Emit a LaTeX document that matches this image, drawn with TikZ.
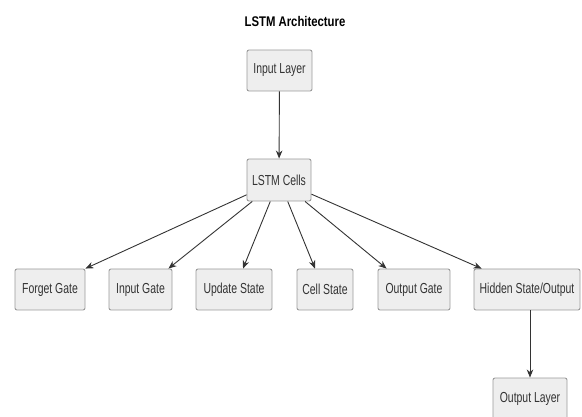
\documentclass[tikz,border=0pt]{standalone}
\usepackage{fontspec}
\setmainfont{Liberation Sans}[FakeStretch=0.72]
\newfontfamily\titlefont{Liberation Sans}[FakeStretch=0.81]
\usetikzlibrary{arrows.meta}
\definecolor{boxfill}{HTML}{EEEEEE}
\definecolor{boxdraw}{HTML}{9A9A9A}
\definecolor{txt}{HTML}{333333}
\definecolor{edge}{HTML}{333333}
\begin{document}
\begin{tikzpicture}[x=1pt,y=-1pt,
  box/.style={draw=boxdraw, fill=boxfill, line width=0.9pt, rounded corners=2pt,
    inner sep=0pt, minimum height=41pt, text=txt,
    font=\fontsize{14.5}{17}\selectfont},
  link/.style={draw=edge, line width=0.9pt, -{Stealth[length=8pt,width=6.5pt,inset=2.5pt]}}]
\useasboundingbox (0,0) rectangle (582,417);
\node[font=\titlefont\bfseries\fontsize{14}{16}\selectfont, text=black] (title) at (295,21) {LSTM Architecture};
\node[box, minimum width=65pt] (input) at (279.5,70.5) {Input Layer};
\node[box, minimum width=64pt, minimum height=42pt] (lstm) at (279,180) {LSTM Cells};
\node[box, minimum width=70pt] (forget) at (50,289.5) {Forget Gate};
\node[box, minimum width=63pt] (inputg) at (140.5,289.5) {Input Gate};
\node[box, minimum width=76pt] (update) at (234,289.5) {Update State};
\node[box, minimum width=56pt] (cell) at (325,289.5) {Cell State};
\node[box, minimum width=72pt] (outgate) at (414,289.5) {Output Gate};
\node[box, minimum width=106pt] (hidden) at (527,289.5) {Hidden State/Output};
\node[box, minimum width=74pt] (outlayer) at (530,398.5) {Output Layer};
\draw[link] (input) -- (lstm);
\draw[link] (lstm) -- (forget.north east);
\draw[link] (lstm) -- ([xshift=-4pt]inputg.north east);
\draw[link] (lstm) -- ([xshift=9pt]update.north);
\draw[link] (lstm) -- ([xshift=-10pt]cell.north);
\draw[link] (lstm) -- ([xshift=9pt]outgate.north west);
\draw[link] (lstm) -- ([xshift=8pt]hidden.north west);
\draw[link] (outlayer.north |- hidden.south) -- (outlayer.north);
\end{tikzpicture}
\end{document}
